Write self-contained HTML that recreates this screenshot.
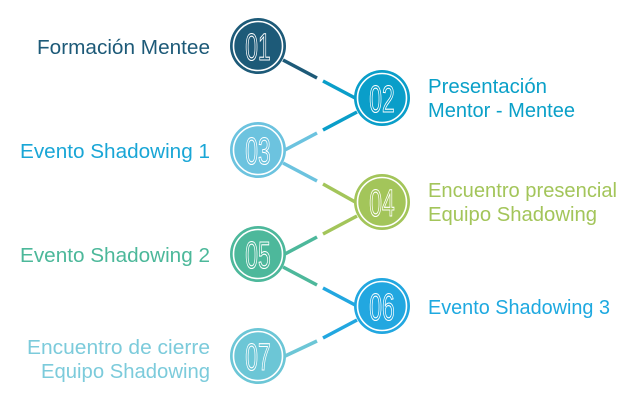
<!DOCTYPE html>
<html><head><meta charset="utf-8"><style>
html,body{margin:0;padding:0;background:#fff;}
svg{display:block;}
text{font-family:"Liberation Sans Narrow","Liberation Sans",sans-serif;font-size:20px;}
.n{font-size:38px;stroke:#fff;stroke-width:1.1;text-anchor:middle;}
</style></head><body>
<svg width="631" height="400" viewBox="0 0 631 400">
<g stroke-width="3.5" stroke-linecap="butt">
<line x1="283" y1="60" x2="317" y2="78" stroke="#1d5a78"/>
<line x1="323" y1="81" x2="357" y2="99" stroke="#0a9ec9"/>
<line x1="357" y1="112" x2="323" y2="130" stroke="#0a9ec9"/>
<line x1="317" y1="133" x2="283" y2="151" stroke="#6cc3df"/>
<line x1="283" y1="163" x2="317" y2="181" stroke="#6cc3df"/>
<line x1="323" y1="184" x2="357" y2="203" stroke="#a3c55a"/>
<line x1="357" y1="216" x2="323" y2="234" stroke="#a3c55a"/>
<line x1="317" y1="237" x2="283" y2="255" stroke="#4db89b"/>
<line x1="283" y1="267" x2="317" y2="285" stroke="#4db89b"/>
<line x1="323" y1="288" x2="357" y2="306" stroke="#22a7e0"/>
<line x1="357" y1="320" x2="323" y2="338" stroke="#22a7e0"/>
<line x1="317" y1="341" x2="283" y2="357" stroke="#6cc6d6"/>
</g>
<g>
<circle cx="258" cy="46" r="28" fill="#1d5a78"/><circle cx="258" cy="46" r="24.5" fill="none" stroke="#fff" stroke-width="1.6"/>
<text class="n" x="258" y="60" fill="#1d5a78" transform="translate(258 0) scale(0.6 1) translate(-258 0)">01</text>
<circle cx="382" cy="98" r="28" fill="#0a9ec9"/><circle cx="382" cy="98" r="24.5" fill="none" stroke="#fff" stroke-width="1.6"/>
<text class="n" x="382" y="112" fill="#0a9ec9" transform="translate(382 0) scale(0.6 1) translate(-382 0)">02</text>
<circle cx="258" cy="150" r="28" fill="#6cc3df"/><circle cx="258" cy="150" r="24.5" fill="none" stroke="#fff" stroke-width="1.6"/>
<text class="n" x="258" y="164" fill="#6cc3df" transform="translate(258 0) scale(0.6 1) translate(-258 0)">03</text>
<circle cx="382" cy="202" r="28" fill="#a3c55a"/><circle cx="382" cy="202" r="24.5" fill="none" stroke="#fff" stroke-width="1.6"/>
<text class="n" x="382" y="216" fill="#a3c55a" transform="translate(382 0) scale(0.6 1) translate(-382 0)">04</text>
<circle cx="258" cy="254" r="28" fill="#4db89b"/><circle cx="258" cy="254" r="24.5" fill="none" stroke="#fff" stroke-width="1.6"/>
<text class="n" x="258" y="268" fill="#4db89b" transform="translate(258 0) scale(0.6 1) translate(-258 0)">05</text>
<circle cx="382" cy="306" r="28" fill="#22a7e0"/><circle cx="382" cy="306" r="24.5" fill="none" stroke="#fff" stroke-width="1.6"/>
<text class="n" x="382" y="320" fill="#22a7e0" transform="translate(382 0) scale(0.6 1) translate(-382 0)">06</text>
<circle cx="258" cy="356" r="28" fill="#6cc6d6"/><circle cx="258" cy="356" r="24.5" fill="none" stroke="#fff" stroke-width="1.6"/>
<text class="n" x="258" y="370" fill="#6cc6d6" transform="translate(258 0) scale(0.6 1) translate(-258 0)">07</text>
</g>
<text x="37" y="54" fill="#1d5a78" textLength="173" lengthAdjust="spacingAndGlyphs">Formación Mentee</text>
<text x="428" y="93" fill="#0aa0c8" textLength="119" lengthAdjust="spacingAndGlyphs">Presentación</text>
<text x="428" y="117" fill="#0aa0c8" textLength="147" lengthAdjust="spacingAndGlyphs">Mentor - Mentee</text>
<text x="20" y="158" fill="#19a6d6" textLength="190" lengthAdjust="spacingAndGlyphs">Evento Shadowing 1</text>
<text x="428" y="197" fill="#a3c55a" textLength="189" lengthAdjust="spacingAndGlyphs">Encuentro presencial</text>
<text x="428" y="221" fill="#a3c55a" textLength="169" lengthAdjust="spacingAndGlyphs">Equipo Shadowing</text>
<text x="20" y="262" fill="#4cb89a" textLength="190" lengthAdjust="spacingAndGlyphs">Evento Shadowing 2</text>
<text x="428" y="314" fill="#1ea9e0" textLength="182" lengthAdjust="spacingAndGlyphs">Evento Shadowing 3</text>
<text x="27" y="354" fill="#7ccbdb" textLength="183" lengthAdjust="spacingAndGlyphs">Encuentro de cierre</text>
<text x="41" y="378" fill="#7ccbdb" textLength="169" lengthAdjust="spacingAndGlyphs">Equipo Shadowing</text>
</svg>
</body></html>
